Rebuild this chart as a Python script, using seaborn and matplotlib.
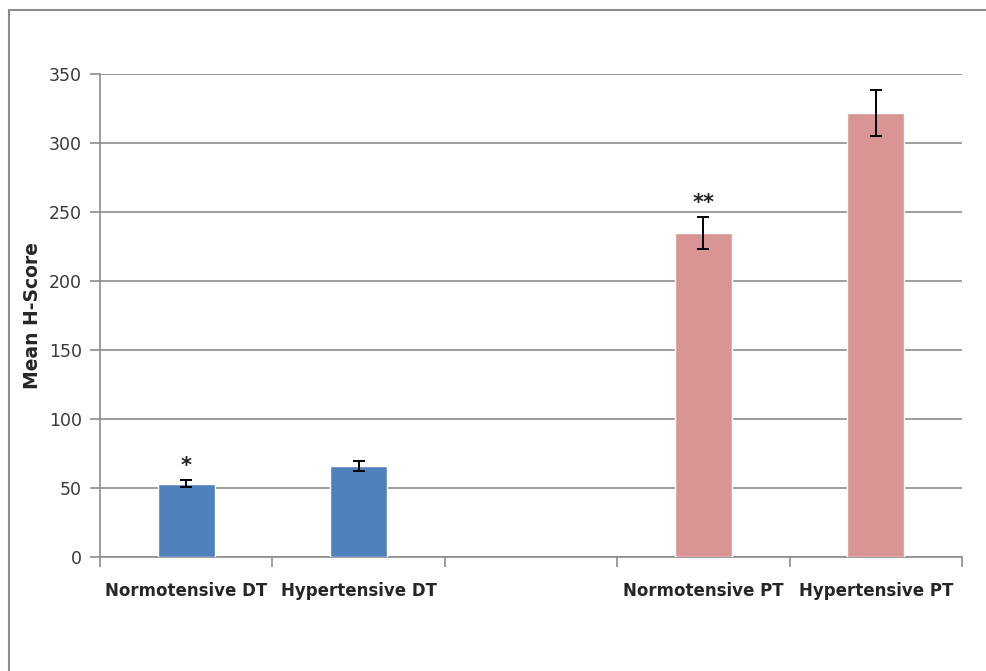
import numpy as np
import pandas as pd
import matplotlib as mpl
import matplotlib.pyplot as plt
import matplotlib.patches as ptch
import seaborn as sns

# данные
groups = ['Normotensive DT', 'Hypertensive DT', 'Normotensive PT', 'Hypertensive PT']
slots = ['Normotensive DT', 'Hypertensive DT', ' ', 'Normotensive PT', 'Hypertensive PT']
means = [53, 66, 235, 321.5]
errs = [2.6, 3.4, 11.5, 16.6]
marks = ['*', '', '**', '']
bar_cols = ['#4F81BD', '#4F81BD', '#D99594', '#D99594']

sns.set_style('white')
plt.rcParams['font.family'] = ['DejaVu Sans']

df = pd.DataFrame({'grp': groups, 'h': means})

fig = plt.figure(figsize=(9.87, 6.71), dpi=100)
ax = fig.add_axes([100 / 987, 1 - 557 / 671, 862 / 987, 483 / 671])

sns.barplot(data=df, x='grp', y='h', order=slots, hue='grp', hue_order=groups,
            palette=bar_cols, width=0.33, legend=False, ax=ax, zorder=3,
            saturation=1)

pos = [slots.index(g) for g in groups]
ax.errorbar(pos, means, yerr=errs, fmt='none', ecolor='black', elinewidth=1.4,
            capsize=4, capthick=1.4, zorder=4)
for p, m, e, s in zip(pos, means, errs, marks):
    if s:
        ax.text(p, m + e + 3, s, ha='center', va='bottom', fontsize=15,
                fontweight='bold', color='#222222')

ax.set_ylim(0, 350)
ax.set_xlim(-0.5, 4.5)
ax.set_yticks(np.arange(0, 351, 50))
ax.yaxis.grid(True, color='#8C8C8C', linewidth=1.2, zorder=0)
ax.set_axisbelow(True)
for sp in ['top', 'right']:
    ax.spines[sp].set_visible(False)
for sp in ['left', 'bottom']:
    ax.spines[sp].set_color('#8C8C8C')
    ax.spines[sp].set_linewidth(1.2)

# подписи категорий без тиков, тики на границах
ax.set_xticks(np.arange(-0.5, 4.6, 1), minor=False)
ax.set_xticklabels([])
ax.set_xticks(range(5), minor=True)
ax.set_xticklabels(slots, minor=True, fontsize=12, fontweight='bold',
                   color='#262626')
ax.tick_params(axis='x', which='major', direction='out', length=7,
               color='#8C8C8C', width=1.2, bottom=True)
ax.tick_params(axis='x', which='minor', length=0, pad=18)
ax.tick_params(axis='y', direction='out', length=7, color='#8C8C8C',
               width=1.2, left=True, labelsize=12.5, labelcolor='#3A3A3A', pad=6)
ax.set_xlabel('')
ax.set_ylabel('Mean H-Score', fontsize=13.5, fontweight='bold', labelpad=5)

# рамка диаграммы (справа и снизу обрезана)
fig.patches.append(ptch.Rectangle((9 / 987, -0.05), 1.2, 1 - 10 / 671 + 0.05,
                                  transform=fig.transFigure, fill=False,
                                  edgecolor='#8C8C8C', linewidth=1.5))

fig.savefig('out.png', dpi=100)
